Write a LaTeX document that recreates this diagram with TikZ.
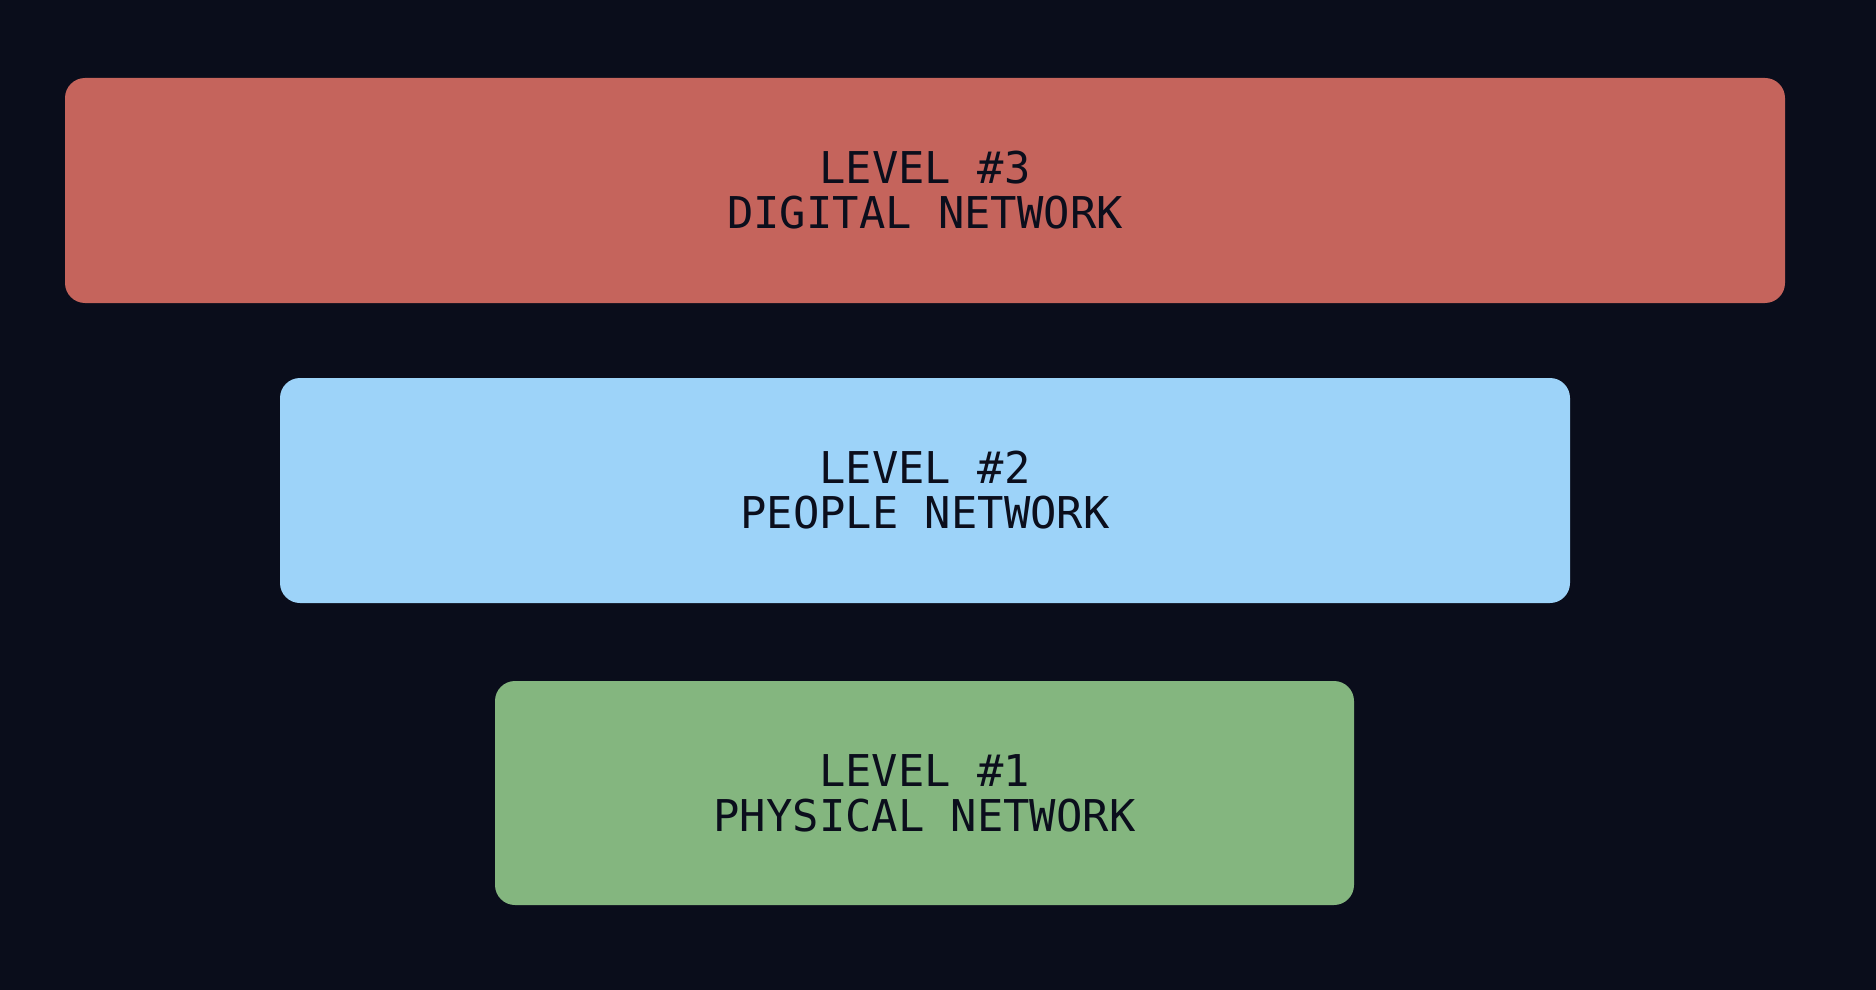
\documentclass[tikz,border=0pt]{standalone}
\usepackage{fontspec}
\newfontfamily\monofont{DejaVu Sans Mono}
\definecolor{bgc}{HTML}{0A0D1B}
\definecolor{txtc}{HTML}{0B0E1C}
\definecolor{redc}{HTML}{C5645C}
\definecolor{bluec}{HTML}{9DD3F9}
\definecolor{greenc}{HTML}{84B67F}
\begin{document}
\begin{tikzpicture}[x=0.5pt,y=-0.5pt,
  level/.style={rectangle, rounded corners=10pt, inner sep=0pt, minimum height=112.5pt,
    align=center, text=txtc, font=\monofont\fontsize{21.9}{22.5}\selectfont}]
\fill[bgc] (0,0) rectangle (1876,990);
\useasboundingbox (0,0) rectangle (1876,990);
\node[level, fill=redc, minimum width=860pt] (l3) at (925,190.5) {LEVEL \#3\\DIGITAL NETWORK};
\node[level, fill=bluec, minimum width=645pt] (l2) at (925,490.5) {LEVEL \#2\\PEOPLE NETWORK};
\node[level, fill=greenc, minimum width=429.5pt, minimum height=112pt] (l1) at (924.5,793) {LEVEL \#1\\PHYSICAL NETWORK};
\end{tikzpicture}
\end{document}
